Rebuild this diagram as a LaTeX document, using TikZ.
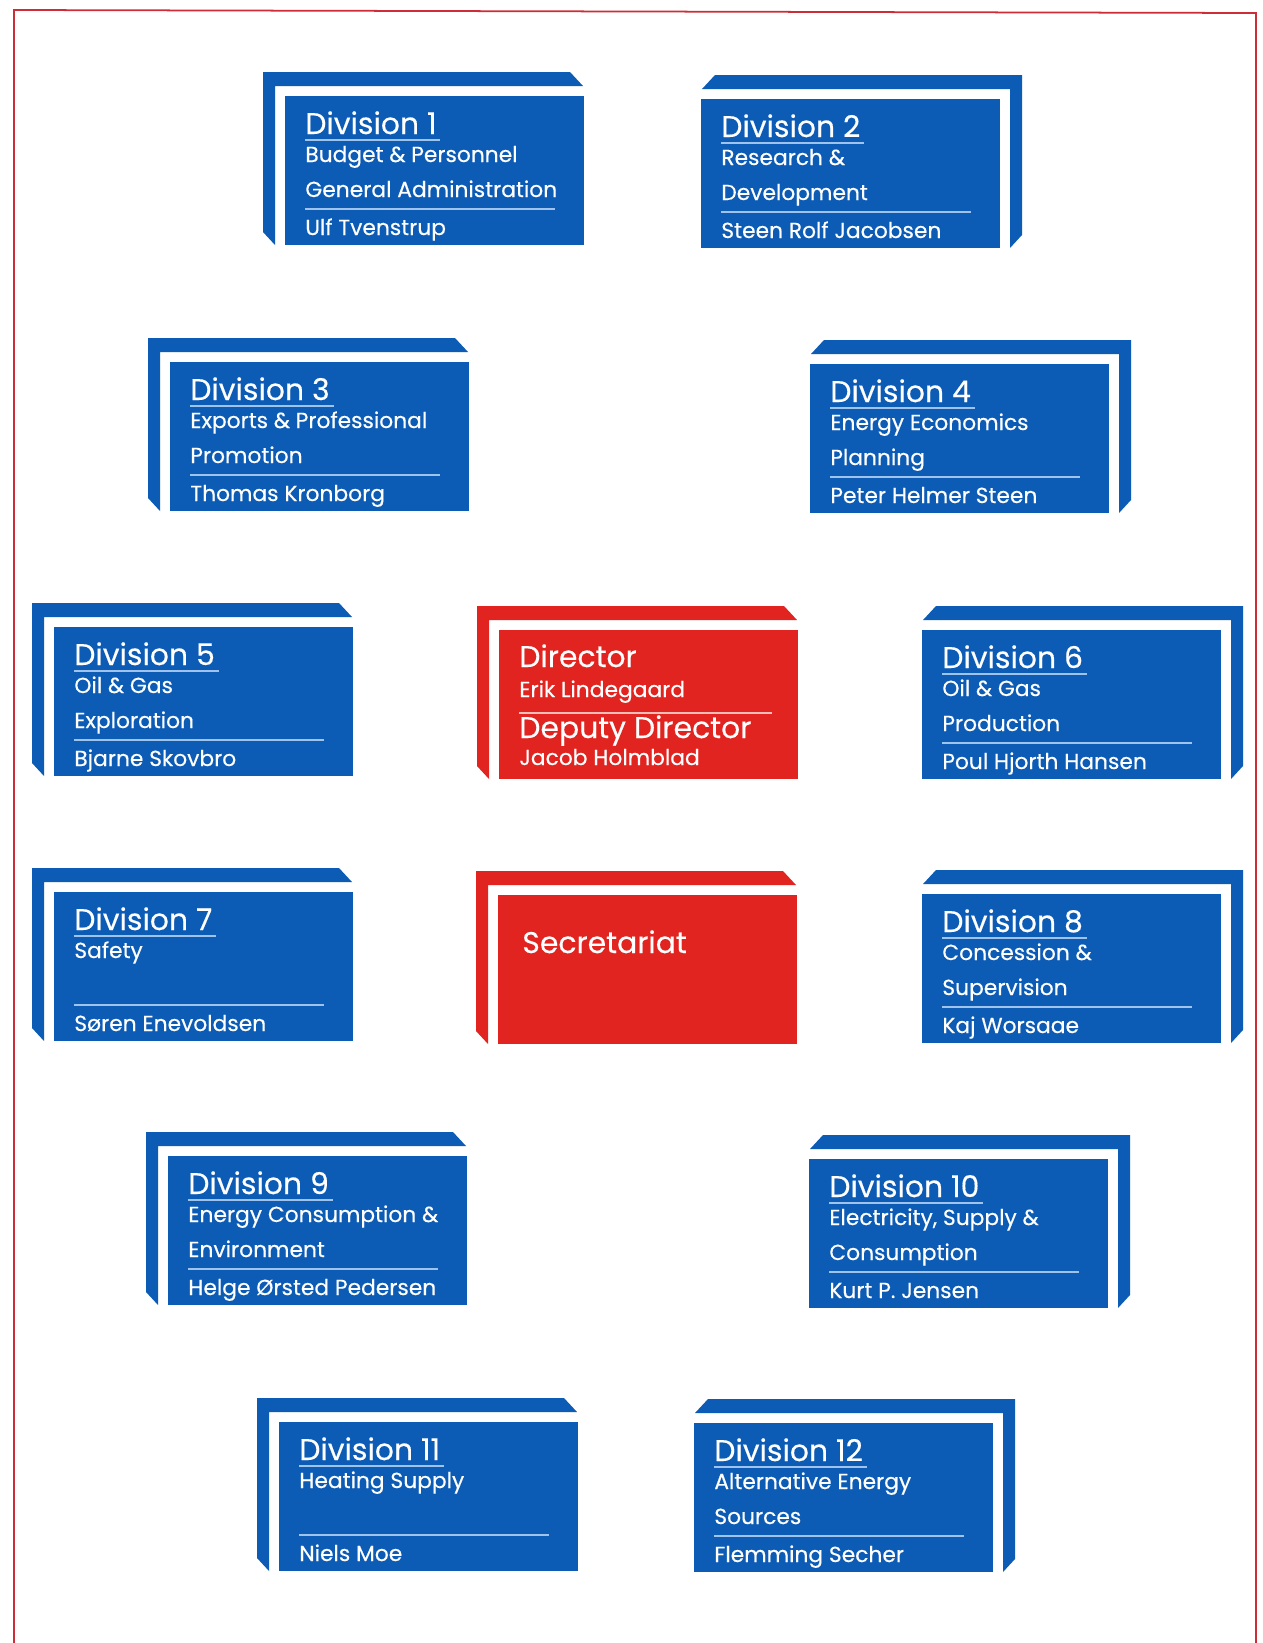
\documentclass[tikz,border=0pt]{standalone}
\usepackage{fontspec}
\setmainfont{Poppins}[FakeBold=0.3]
\usetikzlibrary{positioning}
\definecolor{divblue}{RGB}{12,92,182}
\definecolor{dirred}{RGB}{226,36,32}
\definecolor{framered}{RGB}{205,45,55}
\definecolor{ruleblue}{RGB}{160,195,235}
\definecolor{rulered}{RGB}{245,190,185}

% back plate behind a front card: #1 = L or R, #2 = colour
\newcommand{\plate}[2]{%
  \ifx L#1
    \fill[#2] (-22,-24) -- (285,-24) -- (298,-10) -- (-10,-10) -- (-10,149) -- (-22,136) -- cycle;
  \else
    \fill[#2] (321,-24) -- (14,-24) -- (1,-10) -- (309,-10) -- (309,149) -- (321,136) -- cycle;
  \fi}

% id, side, x, y, title, line 2, line 3, head
\newcommand{\divbox}[8]{%
  \begin{scope}[shift={(#3,#4)}]
    \plate{#2}{divblue}
    \node[frontbox,fill=divblue] (#1) at (0,0) {};
    \node[divtitle] (#1-t) at (20,38) {#5};
    \draw[divrule] ([yshift=-3.4pt]#1-t.base west) -- ([xshift=2pt,yshift=-3.4pt]#1-t.base east);
    \node[divtext] (#1-a) at (20,66) {#6};
    \node[divtext] (#1-b) at (20,101) {#7};
    \draw[divrule] (20,113) -- (270,113);
    \node[divtext] (#1-h) at (20,139) {#8};
  \end{scope}}

\begin{document}
\begin{tikzpicture}[x=0.02cm,y=-0.02cm,
    frontbox/.style={anchor=north west,minimum width=5.98cm,minimum height=2.98cm,inner sep=0pt},
    divtitle/.style={anchor=base west,inner sep=0pt,text=white,font=\fontsize{17}{20}\selectfont},
    divtext/.style={anchor=base west,inner sep=0pt,text=white,font=\fontsize{12.4}{14}\selectfont},
    divrule/.style={ruleblue,line width=0.9pt}]
  \fill[white] (0,0) rectangle (1263,1643);
  \useasboundingbox (0,0) rectangle (1263,1643);

  % page frame
  \coordinate (fl) at (14,1643);
  \coordinate (ftl) at (14,10);
  \coordinate (ftr) at (1256,13);
  \coordinate (fr) at (1256,1643);
  \draw[framered,line width=1pt] (fl) -- (ftl) -- (ftr) -- (fr);

  \divbox{d1}{L}{285}{96}{Division 1}{Budget \& Personnel}{General Administration}{Ulf Tvenstrup}
  \divbox{d2}{R}{701}{99}{Division 2}{Research \&}{Development}{Steen Rolf Jacobsen}
  \divbox{d3}{L}{170}{362}{Division 3}{Exports \& Professional}{Promotion}{Thomas Kronborg}
  \divbox{d4}{R}{810}{364}{Division 4}{Energy Economics}{Planning}{Peter Helmer Steen}
  \divbox{d5}{L}{54}{627}{Division 5}{Oil \& Gas}{Exploration}{Bjarne Skovbro}
  \divbox{d6}{R}{922}{630}{Division 6}{Oil \& Gas}{Production}{Poul Hjorth Hansen}
  \divbox{d7}{L}{54}{892}{Division 7}{Safety}{}{Søren Enevoldsen}
  \divbox{d8}{R}{922}{894}{Division 8}{Concession \&}{Supervision}{Kaj Worsaae}
  \divbox{d9}{L}{168}{1156}{Division 9}{Energy Consumption \&}{Environment}{Helge Ørsted Pedersen}
  \divbox{d10}{R}{809}{1159}{Division 10}{Electricity, Supply \&}{Consumption}{Kurt P. Jensen}
  \divbox{d11}{L}{279}{1422}{Division 11}{Heating Supply}{}{Niels Moe}
  \divbox{d12}{R}{694}{1423}{Division 12}{Alternative Energy}{Sources}{Flemming Secher}

  % director
  \begin{scope}[shift={(499,630)}]
    \plate{L}{dirred}
    \node[frontbox,fill=dirred] (dir) at (0,0) {};
    \node[divtitle] (dir-t) at (20,37) {Director};
    \node[divtext] (dir-a) at (20,67) {Erik Lindegaard};
    \draw[divrule,rulered] (20,83) -- (273,83);
    \node[divtitle] (dep-t) at (20,108) {Deputy Director};
    \node[divtext] (dep-a) at (20,135) {Jacob Holmblad};
  \end{scope}

  % secretariat
  \begin{scope}[shift={(498,895)}]
    \plate{L}{dirred}
    \node[frontbox,fill=dirred] (sec) at (0,0) {};
    \node[divtitle] (sec-t) at (24,58) {Secretariat};
  \end{scope}
\end{tikzpicture}
\end{document}
